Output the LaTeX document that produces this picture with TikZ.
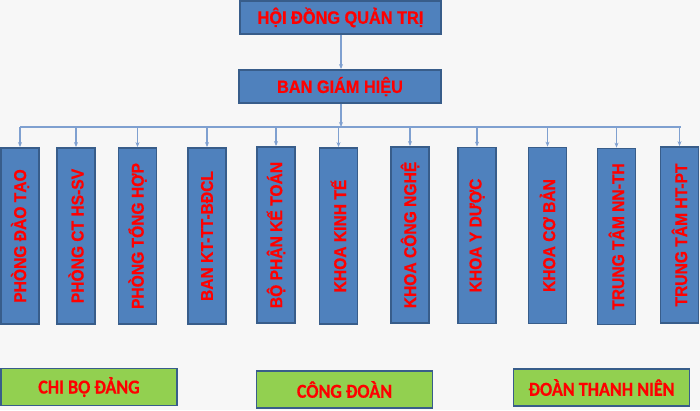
\documentclass[tikz,border=0pt]{standalone}
\usepackage{fontspec}
\setmainfont{Liberation Sans}
\newfontfamily\arialfb[FakeBold=0.6]{Liberation Sans Bold}
\newfontfamily\calib[FakeBold=0.5]{Carlito Bold}
\usetikzlibrary{arrows.meta}
\definecolor{bgc}{RGB}{247,247,247}
\definecolor{boxblue}{RGB}{79,129,189}
\definecolor{boxedge}{RGB}{56,93,138}
\definecolor{boxgreen}{RGB}{146,208,80}
\definecolor{linkc}{RGB}{127,160,208}
\definecolor{txtred}{RGB}{255,0,0}
\newcommand{\tallt}[1]{\scalebox{1}[1.1]{#1}}
\tikzset{
  hbox/.style={draw=boxedge, fill=boxblue, line width=1.8pt, inner sep=0pt,
    text=txtred, font=\arialfb\fontsize{16.3}{18}\selectfont},
  vbox/.style={draw=boxedge, fill=boxblue, line width=1.8pt, inner sep=0pt, rotate=90,
    minimum width=176pt, minimum height=38pt,
    text=txtred, font=\arialfb\fontsize{15.6}{18}\selectfont},
  gbox/.style={draw=boxedge, fill=boxgreen, line width=1.8pt, inner sep=0pt,
    minimum width=176pt, minimum height=37pt,
    text=txtred, font=\calib\fontsize{18}{20}\selectfont},
  link/.style={draw=linkc, line width=1.3pt},
  arr/.style={link, -{Stealth[length=5pt,width=4pt]}}
}
\begin{document}
\begin{tikzpicture}[x=1pt,y=-1pt]
\fill[bgc] (0,0) rectangle (700,410);
\useasboundingbox (0,0) rectangle (700,410);

\node[hbox, minimum width=201pt, minimum height=33pt] (hdqt) at (340.5,17.5) {\tallt{HỘI ĐỒNG QUẢN TRỊ}};
\node[hbox, minimum width=202pt, minimum height=33pt] (bgh) at (340,86.5) {\tallt{BAN GIÁM HIỆU}};

\node[vbox] (b1) at (20,236) {\tallt{PHÒNG ĐÀO TẠO}};
\node[vbox] (b2) at (76,236) {\tallt{PHÒNG CT HS-SV}};
\node[vbox] (b3) at (137.5,236) {\tallt{PHÒNG TỔNG HỢP}};
\node[vbox] (b4) at (207,236) {\tallt{BAN KT-TT-BĐCL}};
\node[vbox] (b5) at (276,235) {\tallt{BỘ PHẬN KẾ TOÁN}};
\node[vbox] (b6) at (338.5,236) {\tallt{KHOA KINH TẾ}};
\node[vbox] (b7) at (410,235) {\tallt{KHOA CÔNG NGHỆ}};
\node[vbox] (b8) at (477,235.5) {\tallt{KHOA Y DƯỢC}};
\node[vbox] (b9) at (547.5,235.5) {\tallt{KHOA CƠ BẢN}};
\node[vbox] (b10) at (616.5,236.5) {\tallt{TRUNG TÂM NN-TH}};
\node[vbox] (b11) at (679.5,235) {\tallt{TRUNG TÂM HT-PT}};

\node[gbox] (g1) at (89,387) {\tallt{CHI BỘ ĐẢNG}};
\node[gbox] (g2) at (344.5,389.5) {\tallt{CÔNG ĐOÀN}};
\node[gbox] (g3) at (601.5,387.5) {\tallt{ĐOÀN THANH NIÊN}};

\coordinate (busL) at (20,127);
\coordinate (busR) at (681,127);
\coordinate (busM) at (341,127);

\draw[arr] (hdqt.south -| busM) -- (bgh.north -| busM);
\draw[arr] (bgh.south -| busM) -- (busM);
\draw[link] (busL) -- (busR);
\foreach \b in {b1,b2,b3,b4,b5,b6,b7,b8,b9,b10,b11}{
  \draw[arr] (busL -| \b.east) -- (\b.east);
}
\end{tikzpicture}
\end{document}
